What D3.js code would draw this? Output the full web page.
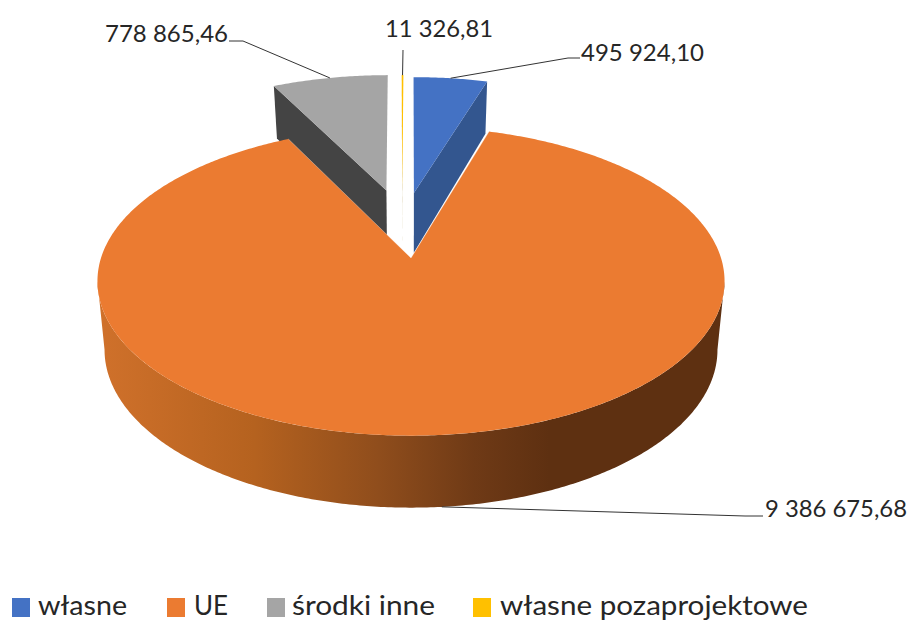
<!DOCTYPE html>
<html>
<head>
<meta charset="utf-8">
<script src="https://d3js.org/d3.v7.min.js"></script>
<style>
  html, body { margin: 0; background: #fff; }
  svg { display: block; }
  text { font-family: Lato, sans-serif; fill: #262626; }
</style>
</head>
<body>
<svg width="911" height="621"></svg>
<script>
// data
var categories = ["własne", "UE", "środki inne", "własne pozaprojektowe"];
var values = [495924.10, 9386675.68, 778865.46, 11326.81];
var valueLabels = ["495 924,10", "9 386 675,68", "778 865,46", "11 326,81"];

var colors = d3.scaleOrdinal().domain(categories).range(["#4472C4", "#EB7B31", "#A5A5A5", "#FFC000"]);
var wallColors = d3.scaleOrdinal().domain(categories).range(["#33568F", "#7A3F16", "#444444", "#8F6C00"]);

// how far each slice is pulled out of the pie, in pie radii
var explodeX = [0.01, 0, -0.085, -0.03];
var explodeZ = [0.46, 0, 0.48, 0.48];

var svg = d3.select("svg");

// perspective of the tilted disc, each disc has its own centre and radii
var persp = 0.15;
var topDisc = {cy: 258, rx: 310, ry: 151};
var wallDisc = {cy: 322, rx: 303, ry: 161};
var sideDisc = {cy: 326, rx: 303, ry: 154.4};
var cx = 411;

function project(disc, x, z) {
  var w = 1 + persp * z;
  return [cx + disc.rx * x / w, disc.cy - disc.ry * z / w];
}

function rimPoint(disc, a, i) {
  return project(disc, Math.sin(a) + explodeX[i], Math.cos(a) + explodeZ[i]);
}

function apexPoint(disc, i) {
  return project(disc, explodeX[i], explodeZ[i]);
}

function rimPoints(disc, a0, a1, i) {
  var n = Math.max(2, Math.ceil(Math.abs(a1 - a0) / 0.01));
  return d3.range(n + 1).map(function(k) {
    return rimPoint(disc, a0 + (a1 - a0) * k / n, i);
  });
}

var line = d3.line();
var pie = d3.pie().sort(null);
var slices = pie(values);

// side of the big slice goes dark towards the right
var defs = svg.append("defs");
var grad = defs.append("linearGradient")
    .attr("id", "rimGrad")
    .attr("gradientUnits", "userSpaceOnUse")
    .attr("x1", 97).attr("x2", 725).attr("y1", 0).attr("y2", 0);
[[0, "#D0712B"], [0.25, "#B5621F"], [0.45, "#8F4D1C"], [0.6, "#6F3A16"], [0.72, "#5E3011"], [1, "#5E3011"]]
  .forEach(function(s) { grad.append("stop").attr("offset", s[0]).attr("stop-color", s[1]); });

function wall(i, a) {
  return line([apexPoint(topDisc, i), rimPoint(topDisc, a, i), rimPoint(wallDisc, a, i), apexPoint(wallDisc, i)]) + "Z";
}

function face(i, d) {
  return line([apexPoint(topDisc, i)].concat(rimPoints(topDisc, d.startAngle, d.endAngle, i))) + "Z";
}

// pulled out slices first, the big slice sits in front of them
[3, 2, 0].forEach(function(i) {
  var d = slices[i];
  var a = i == 0 ? d.endAngle : d.startAngle;
  svg.append("path")
      .attr("d", wall(i, a))
      .attr("fill", wallColors(categories[i]));
  svg.append("path")
      .attr("d", face(i, d))
      .attr("fill", colors(categories[i]));
});

// near side of the big slice, from silhouette to silhouette
var sideStart = Math.acos(-persp);
var sideEnd = Math.PI * 2 - sideStart;
var sideTop = rimPoints(topDisc, sideStart, sideEnd, 1);
var sideBot = rimPoints(sideDisc, sideStart, sideEnd, 1);
svg.append("path")
    .attr("d", line(sideTop.concat(sideBot.reverse())) + "Z")
    .attr("fill", "url(#rimGrad)");

svg.append("path")
    .attr("d", face(1, slices[1]))
    .attr("fill", colors(categories[1]));

// thin light edge on the cut of the big slice
svg.append("path")
    .attr("d", line([rimPoint(topDisc, slices[1].startAngle, 1), apexPoint(topDisc, 1), rimPoint(topDisc, slices[1].endAngle, 1)]))
    .attr("fill", "none")
    .attr("stroke", "#fff")
    .attr("stroke-opacity", 0.4)
    .attr("stroke-width", 0.8);

// leader lines and value labels
function mid(d) { return (d.startAngle + d.endAngle) / 2; }

var leaders = [
  {i: 0, from: rimPoint(topDisc, mid(slices[0]), 0), via: [[568, 58], [580, 58]]},
  {i: 1, from: rimPoint(sideDisc, mid(slices[1]), 1), via: [[745, 516], [763, 516]]},
  {i: 2, from: rimPoint(topDisc, mid(slices[2]), 2), via: [[243, 41], [229, 41]]},
  {i: 3, from: rimPoint(topDisc, mid(slices[3]), 3), via: [[403, 50]]}
];
svg.selectAll(".leader")
  .data(leaders)
  .enter().append("path")
    .attr("class", "leader")
    .attr("d", function(d) { return line([d.from].concat(d.via)); })
    .attr("fill", "none")
    .attr("stroke", "#333")
    .attr("stroke-width", 1);

var labelX = [581, 765, 105, 385];
var labelY = [61, 517, 42, 37];
var labelW = [123, 142, 123, 108];
svg.selectAll(".value")
  .data(valueLabels)
  .enter().append("text")
    .attr("class", "value")
    .attr("x", function(d, i) { return labelX[i]; })
    .attr("y", function(d, i) { return labelY[i]; })
    .attr("font-size", 24)
    .attr("textLength", function(d, i) { return labelW[i]; })
    .attr("lengthAdjust", "spacingAndGlyphs")
    .text(function(d) { return d; });

// legend
var legendX = [12, 167, 267, 473];
var legendTextX = [38, 194, 292, 500];
var legendTextW = [89, 34, 143, 308];
var legend = svg.selectAll(".legend")
  .data(categories)
  .enter().append("g")
    .attr("class", "legend");
legend.append("rect")
    .attr("x", function(d, i) { return legendX[i]; })
    .attr("y", 598)
    .attr("width", 18)
    .attr("height", 19)
    .attr("fill", function(d) { return colors(d); });
legend.append("text")
    .attr("x", function(d, i) { return legendTextX[i]; })
    .attr("y", 615)
    .attr("font-size", 26)
    .attr("textLength", function(d, i) { return legendTextW[i]; })
    .attr("lengthAdjust", "spacingAndGlyphs")
    .text(function(d) { return d; });
</script>
</body>
</html>
